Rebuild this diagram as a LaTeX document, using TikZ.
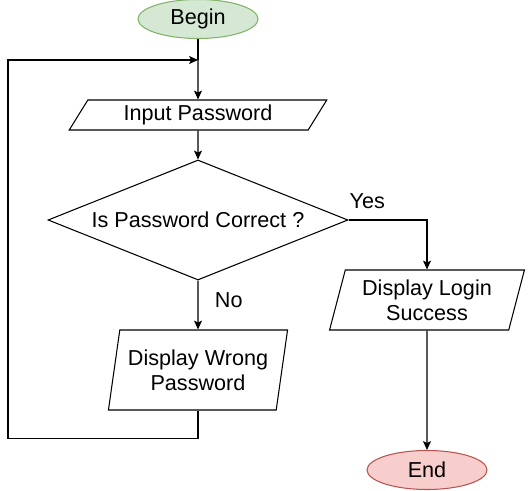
\documentclass[tikz,border=0pt]{standalone}
\usepackage{fontspec}
\setmainfont{Liberation Sans}
\usepackage{tikz}
\usepackage{xcolor}
\usetikzlibrary{positioning}
\usetikzlibrary{shapes.geometric, arrows.meta}
\definecolor{beginfill}{HTML}{D5E8D4}
\definecolor{beginline}{HTML}{82B366}
\definecolor{endfill}{HTML}{F8CECC}
\definecolor{endline}{HTML}{B85450}
\tikzstyle{terminal} = [ellipse, draw, minimum width=2.4cm, minimum height=0.78cm, inner sep=0pt]
\tikzstyle{io} = [trapezium, draw, trapezium stretches=true, inner sep=0pt, align=center]
\tikzstyle{decision} = [diamond, draw, shape aspect=2.5, minimum width=6cm, minimum height=2.4cm, inner sep=0pt]
\tikzstyle{line} = [draw, -{Stealth[length=5pt, width=4.5pt, inset=1pt]}]

\begin{document}
\begin{tikzpicture}[node distance = 2cm, auto, line width=0.6pt, font=\fontsize{12.3}{14.2}\selectfont]
	\useasboundingbox (0,0) rectangle (10.56,-9.82);
	
	% Place nodes
	\node [terminal, draw=beginline, fill=beginfill] at (3.96,-0.38)	(Begin)		{Begin};
	\node [io, below of=Begin, yshift=0.08cm, minimum width=5.2cm, minimum height=0.6cm,
		trapezium left angle=58, trapezium right angle=122]			(Input)		{Input Password};
	\node [decision, below of=Input, yshift=-0.1cm]						(Decision)	{Is Password Correct ?};
	\node [io, below of=Decision, yshift=-1cm, minimum width=3.6cm, minimum height=1.6cm,
		trapezium left angle=76, trapezium right angle=104]			(Wrong)		{Display Wrong\\Password};
	\node [io, right of=Decision, xshift=2.58cm, yshift=-1.6cm, minimum width=3.92cm, minimum height=1.2cm,
		trapezium left angle=73, trapezium right angle=107]			(Login)		{Display Login\\Success};
	\node [terminal, draw=endline, fill=endfill, below of=Login, yshift=-1.4cm] (End) {End};
	\coordinate [below of=Begin, node distance=0.82cm]					(Merge);
	
	%Draw edges
	\path [draw] (Begin)			--										(Merge);
	\path [line] (Merge)			--										(Input);
	\path [line] (Input)			--										(Decision);
	\path [line] (Decision)			-- node [pos=0.4, xshift=6pt] {No}		(Wrong);
	\path [line] (Decision.east)	-| node [pos=0.12, yshift=3pt] {Yes}	(Login.north);
	\path [line] (Login.south)		--										(End);
	\path [line] (Wrong.south)		-- ++(0,-0.56) -- ++(-3.8,0) |-			(Merge);
	
\end{tikzpicture}
\end{document}
